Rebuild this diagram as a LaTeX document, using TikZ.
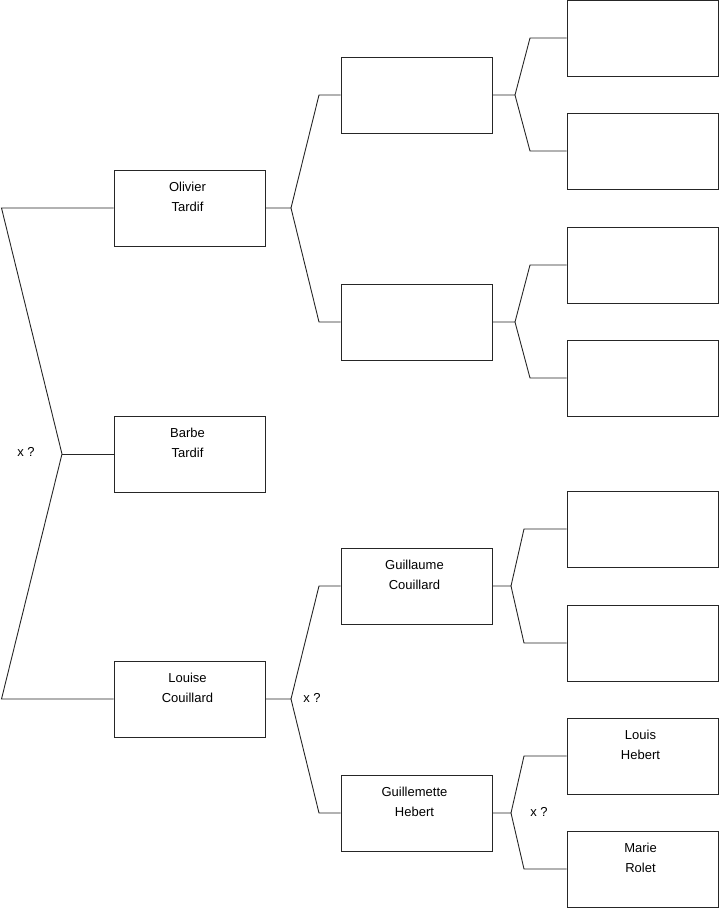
\documentclass[tikz,border=0pt]{standalone}
\usepackage{fontspec}
\setmainfont{Liberation Sans}
\usetikzlibrary{calc}
\begin{document}
\begin{tikzpicture}[x=1pt,y=-1pt,
  person/.style={draw=black!85,line width=0.9pt,minimum width=151pt,minimum height=76pt,inner sep=0pt},
  nm/.style={anchor=north,align=center,font=\fontsize{13}{20}\selectfont,inner sep=0pt,yshift=-12pt,xshift=-2pt},
  lnk/.style={draw=black!85,line width=0.9pt},
  xq/.style={font=\fontsize{13}{15}\selectfont,inner sep=0pt}]
\useasboundingbox (0,0) rectangle (719,908);
% generation 1
\node[person] (ot) at (189.5,208) {};
\node[person] (bt) at (189.5,454) {};
\node[person] (lc) at (189.5,699) {};
% generation 2
\node[person] (p1) at (416.5,95) {};
\node[person] (p2) at (416.5,322) {};
\node[person] (gc) at (416.5,586) {};
\node[person] (gh) at (416.5,813) {};
% generation 3
\node[person] (q1) at (642.5,38) {};
\node[person] (q2) at (642.5,151) {};
\node[person] (q3) at (642.5,265) {};
\node[person] (q4) at (642.5,378) {};
\node[person] (q5) at (642.5,529) {};
\node[person] (q6) at (642.5,643) {};
\node[person] (lh) at (642.5,756) {};
\node[person] (mr) at (642.5,869) {};
% names
\node[nm] (tot) at (ot.north) {Olivier\\Tardif};
\node[nm] (tbt) at (bt.north) {Barbe\\Tardif};
\node[nm] (tlc) at (lc.north) {Louise\\Couillard};
\node[nm] (tgc) at (gc.north) {Guillaume\\Couillard};
\node[nm] (tgh) at (gh.north) {Guillemette\\Hebert};
\node[nm] (tlh) at (lh.north) {Louis\\Hebert};
\node[nm] (tmr) at (mr.north) {Marie\\Rolet};
% left bracket
\coordinate (a1) at (1.5,208);
\coordinate (a2) at (62,454);
\coordinate (a3) at (1.5,699);
\draw[lnk] (ot.west) -- (a1) -- (a2) -- (a3) -- (lc.west);
\draw[lnk] (a2) -- (bt.west);
\node[xq] (x1) at (26,452) {x ?};
% Olivier -> parents
\coordinate (b0) at (291,208);
\coordinate (b1) at (319,95);
\coordinate (b2) at (319,322);
\draw[lnk] (ot.east) -- (b0) -- (b1) -- (p1.west);
\draw[lnk] (b0) -- (b2) -- (p2.west);
% Louise -> parents
\coordinate (c0) at (291,699);
\coordinate (c1) at (319,586);
\coordinate (c2) at (319,813);
\draw[lnk] (lc.east) -- (c0) -- (c1) -- (gc.west);
\draw[lnk] (c0) -- (c2) -- (gh.west);
\node[xq] (x2) at (312,698) {x ?};
% p1 -> parents
\coordinate (d0) at (515,95);
\coordinate (d1) at (530,38);
\coordinate (d2) at (530,151);
\draw[lnk] (p1.east) -- (d0) -- (d1) -- (q1.west);
\draw[lnk] (d0) -- (d2) -- (q2.west);
% p2 -> parents
\coordinate (e0) at (515,322);
\coordinate (e1) at (530,265);
\coordinate (e2) at (530,378);
\draw[lnk] (p2.east) -- (e0) -- (e1) -- (q3.west);
\draw[lnk] (e0) -- (e2) -- (q4.west);
% Guillaume -> parents
\coordinate (f0) at (511,586);
\coordinate (f1) at (524,529);
\coordinate (f2) at (524,643);
\draw[lnk] (gc.east) -- (f0) -- (f1) -- (q5.west);
\draw[lnk] (f0) -- (f2) -- (q6.west);
% Guillemette -> parents
\coordinate (g0) at (511,813);
\coordinate (g1) at (524,756);
\coordinate (g2) at (524,869);
\draw[lnk] (gh.east) -- (g0) -- (g1) -- (lh.west);
\draw[lnk] (g0) -- (g2) -- (mr.west);
\node[xq] (x3) at (539,812) {x ?};
\end{tikzpicture}
\end{document}
